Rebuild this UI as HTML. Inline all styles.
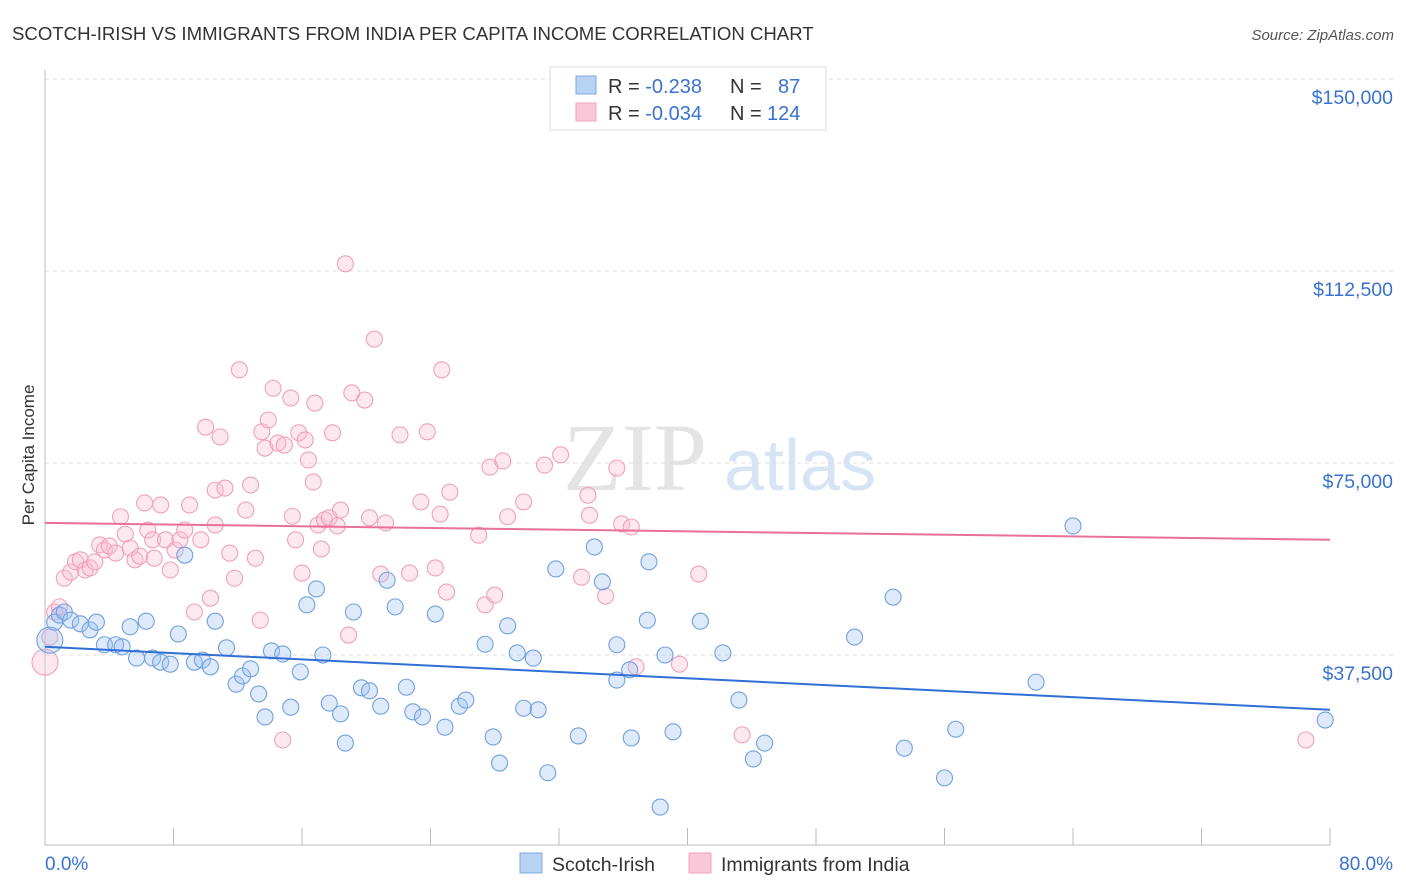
<!DOCTYPE html>
<html><head><meta charset="utf-8"><style>
body{margin:0;background:#fff;font-family:"Liberation Sans",sans-serif;}
#wrap{position:relative;width:1406px;height:892px;overflow:hidden;}
</style></head><body>
<div id="wrap">
<svg id="svg" width="1406" height="892">
<text x="12" y="40" font-size="18.6" fill="#333">SCOTCH-IRISH VS IMMIGRANTS FROM INDIA PER CAPITA INCOME CORRELATION CHART</text>
<text x="1394" y="40" font-size="15" fill="#555" font-style="italic" text-anchor="end">Source: ZipAtlas.com</text>
<text x="34" y="455" font-size="17" fill="#333" text-anchor="middle" transform="rotate(-90 34 455)">Per Capita Income</text>
<g><text x="635" y="490" font-size="96" fill="#e4e4e4" font-family="Liberation Serif,serif" text-anchor="middle">ZIP</text><text x="800" y="490" font-size="72" fill="#d6e4f4" text-anchor="middle">atlas</text></g>
<g id="grid"></g><g id="pts"></g><g id="trend"></g>
<g>
<rect x="550" y="67" width="276" height="63" fill="#fff" stroke="#ddd"/>
<rect x="576" y="76" width="20" height="18" fill="#b8d2f4" stroke="#7ea8e0"/>
<text x="608" y="93" font-size="20" fill="#333">R = <tspan fill="#3a72d0">-0.238</tspan><tspan x="730">N = </tspan><tspan x="778" fill="#3a72d0">87</tspan></text>
<rect x="576" y="103" width="20" height="18" fill="#f9c8d8" stroke="#f0a0bc"/>
<text x="608" y="120" font-size="20" fill="#333">R = <tspan fill="#3a72d0">-0.034</tspan><tspan x="730">N = </tspan><tspan x="767" fill="#3a72d0">124</tspan></text>
</g>
<g>
<rect x="520" y="853" width="22" height="20" fill="#b8d2f4" stroke="#7ea8e0"/>
<text x="552" y="871" font-size="19.5" fill="#333">Scotch-Irish</text>
<rect x="689" y="853" width="22" height="20" fill="#f9c8d8" stroke="#f0a0bc"/>
<text x="721" y="871" font-size="19.5" fill="#333">Immigrants from India</text>
</g>
<text x="45" y="870" font-size="19" fill="#3a72d0">0.0%</text>
<text x="1393" y="870" font-size="19" fill="#3a72d0" text-anchor="end">80.0%</text>
</svg></div>
<script>
const yTicks=[150000,112500,75000,37500];
const yTickLabels=["$150,000","$112,500","$75,000","$37,500"];
const xTicks=[0,8,16,24,32,40,48,56,64,72,80];
const blueX=[0.3,0.6,0.9,1.2,1.6,2.2,2.8,3.2,3.7,4.4,4.8,5.3,5.7,6.3,6.7,7.2,7.8,8.3,8.7,9.3,9.8,10.3,10.6,11.3,11.9,12.3,12.8,13.3,13.7,14.1,14.8,15.3,15.9,16.3,16.9,17.3,17.7,18.4,18.7,19.2,19.7,20.2,20.9,21.3,21.8,22.5,22.9,23.5,24.3,24.9,25.8,26.2,27.4,27.9,28.3,28.8,29.4,29.8,30.4,30.7,31.3,31.8,33.2,34.2,34.7,35.6,35.6,36.4,36.5,37.5,37.6,38.3,38.6,39.1,40.8,42.2,43.2,44.1,44.8,50.4,52.8,53.5,56.0,56.7,61.7,64.0,79.7];
const blueY=[40.4,43.9,45.3,45.9,44.3,43.6,42.4,43.9,39.5,39.5,39.1,43.0,36.9,44.1,36.9,36.1,35.7,41.6,57.0,36.1,36.5,35.2,44.1,38.9,31.8,33.4,34.8,29.9,25.4,38.3,37.7,27.3,34.2,47.3,50.4,37.5,28.1,26.0,20.3,45.9,31.1,30.5,27.5,52.1,46.9,31.2,26.4,25.4,45.5,23.4,27.5,28.7,39.6,21.5,16.4,43.2,37.9,27.1,36.9,26.8,14.5,54.3,21.7,58.6,51.8,39.5,32.6,34.6,21.3,44.3,55.7,7.8,37.5,22.5,44.1,37.9,28.7,17.2,20.3,41.0,48.8,19.3,13.5,23.0,32.2,62.7,24.8];
const pinkX=[0.0,0.3,0.6,0.9,1.2,1.6,1.9,2.2,2.5,2.8,3.1,3.4,3.7,4.0,4.4,4.7,5.0,5.3,5.6,5.9,6.2,6.4,6.7,6.8,7.2,7.5,7.8,8.1,8.4,8.7,9.0,9.3,9.7,10.0,10.3,10.6,10.6,10.9,11.2,11.5,11.8,12.1,12.5,12.8,13.1,13.4,13.5,13.7,13.9,14.2,14.5,14.9,15.3,15.4,15.6,15.8,16.0,16.2,16.4,16.7,16.8,17.0,17.2,17.4,17.7,17.9,18.2,18.4,18.7,18.9,19.1,19.9,20.2,20.5,20.9,21.2,22.1,22.7,23.4,23.8,24.3,24.6,24.7,25.0,25.2,27.0,27.4,27.7,28.0,28.5,28.8,29.8,31.1,32.1,33.4,33.8,33.9,34.9,35.6,35.9,36.5,36.8,39.5,40.7,43.4,78.5,14.8];
const pinkY=[36.1,41.0,45.9,46.9,52.5,53.7,55.7,56.1,54.1,54.5,55.7,59.0,58.0,58.8,57.4,64.5,61.1,58.4,56.1,56.8,67.2,61.9,60.0,56.4,66.8,60.0,54.1,58.0,60.0,61.9,66.8,45.9,60.0,82.0,48.6,62.9,69.7,80.1,70.1,57.4,52.5,93.2,65.8,70.7,56.4,44.3,81.1,77.9,83.4,89.6,78.9,78.5,87.7,64.6,60.0,80.9,53.5,79.5,75.6,71.3,86.7,62.9,58.2,63.9,64.3,80.9,62.7,65.8,113.9,41.4,88.7,87.3,64.3,99.2,53.3,63.3,80.5,53.5,67.4,81.1,54.5,65.0,93.2,49.8,69.3,60.9,47.3,74.2,49.2,75.4,64.5,67.4,74.6,76.6,52.7,68.7,64.8,49.0,74.0,63.1,62.5,35.2,35.7,53.3,21.9,20.9,20.9];
const trendX=[0,80];
const blueTrend=[39.1,26.8];
const pinkTrend=[63.3,60.0];
const X=v=>45+v/80*1285;
const Y=v=>847-v/37.5*192;
const NS="http://www.w3.org/2000/svg";
function mk(tag,attrs,parent){const e=document.createElementNS(NS,tag);for(const k in attrs)e.setAttribute(k,attrs[k]);parent.appendChild(e);return e;}
const grid=document.getElementById('grid');
yTicks.forEach((t,i)=>{
 const l=mk('line',{x1:45,x2:1394,y1:Y(t/1000),y2:Y(t/1000),stroke:'#ddd','stroke-dasharray':'4,4'},grid);
 
 
 const tx=mk('text',{x:1393,y:Y(t/1000)+25,'font-size':19.5,fill:'#3a72d0','text-anchor':'end'},grid);
 tx.textContent=yTickLabels[i];
 
 
});
const ax=mk('line',{x1:45,x2:1330,y1:845,y2:845,stroke:'#bbb'},grid);


const ay=mk('line',{x1:45,x2:45,y1:70,y2:845,stroke:'#bbb'},grid);


xTicks.forEach(t=>{
 const l=mk('line',{x1:X(t),x2:X(t),y1:828,y2:845,stroke:'#bbb'},grid);
 
 
});
const pts=document.getElementById('pts');
function series(xs,ys,fill,stroke,name){
 xs.forEach((x,i)=>{
  const r=(i===0)?13:8;
  const c=mk('circle',{cx:X(x),cy:Y(ys[i]),r:r,fill:fill,stroke:stroke,'stroke-width':1.1},pts);
  
  
 });
}
series(pinkX,pinkY,'rgba(248,190,210,0.35)','#f0a0bc','india-point');
series(blueX,blueY,'rgba(160,195,240,0.35)','#6fa0e0','scotch-irish-point');
const tr=document.getElementById('trend');
const bt=mk('line',{x1:X(trendX[0]),x2:X(trendX[1]),y1:Y(blueTrend[0]),y2:Y(blueTrend[1]),stroke:'#2f6fd6','stroke-width':2},tr);


const pt=mk('line',{x1:X(trendX[0]),x2:X(trendX[1]),y1:Y(pinkTrend[0]),y2:Y(pinkTrend[1]),stroke:'#e8709a','stroke-width':2},tr);


</script>
</body></html>
